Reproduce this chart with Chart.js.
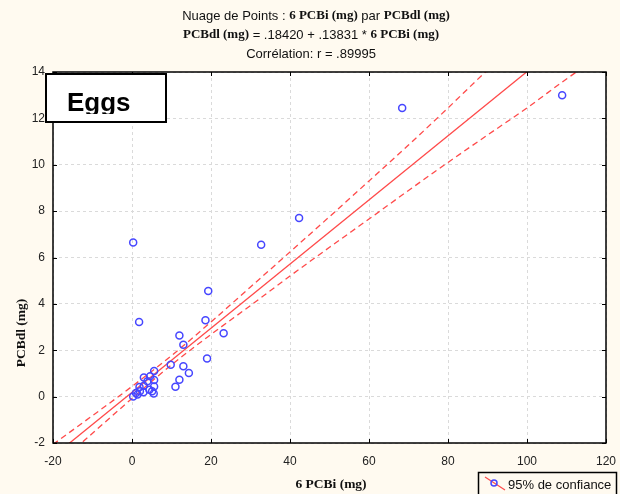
<!DOCTYPE html>
<html>
<head>
<meta charset="utf-8">
<script src="https://cdn.jsdelivr.net/npm/chart.js@4.4.1/dist/chart.umd.min.js"></script>
<style>
  html, body { margin: 0; padding: 0; background: #fffaf0; }
  #wrap { width: 620px; height: 494px; }
</style>
</head>
<body>
<div id="wrap"><canvas id="scatterChart" width="620" height="494"></canvas></div>
<script>
// observed points (6 PCBi, PCBdl)
const pcbiValues = [108.9, 68.4, 42.3, 32.7, 0.3, 19.3, 1.8, 18.6, 23.2, 12.0, 13.0, 19.0, 9.8, 13.0, 14.4, 12.0, 11.0,
    5.6, 5.6, 5.6, 5.5, 4.6, 3.0, 3.9, 4.4, 3.0, 1.9, 2.0, 2.9, 1.0, 0.3, 1.4, 5.1];
const pcbdlValues = [13.0, 12.45, 7.7, 6.55, 6.65, 4.56, 3.22, 3.29, 2.73, 2.64, 2.24, 1.64, 1.37, 1.31, 1.02, 0.73, 0.43,
    1.1, 0.72, 0.44, 0.13, 0.88, 0.82, 0.66, 0.3, 0.47, 0.42, 0.23, 0.19, 0.16, 0.01, 0.09, 0.23];

// regression line ends: PCBdl = .18420 + .13831 * 6 PCBi
const fitX = [-20, 120];
const fitY = [-2.582, 16.782];

// 95% confidence band
const bandX = [-20, -10, 0, 10, 20, 30, 40, 50, 60, 70, 80, 90, 100, 110, 120];
const bandUpper = [-2.06, -0.82, 0.44, 1.77, 3.22, 4.73, 6.24, 7.76, 9.30, 10.85, 12.45, 14.08, 15.57, 17.1, 18.7];
const bandLower = [-3.10, -1.58, -0.08, 1.37, 2.68, 3.93, 5.20, 6.44, 7.66, 8.89, 10.10, 11.28, 12.45, 13.70, 14.88];

const xTicks = [-20, 0, 20, 40, 60, 80, 100, 120];
const yTicks = [-2, 0, 2, 4, 6, 8, 10, 12, 14];

const SANS = "'Liberation Sans', Arial, sans-serif";
const SERIF = "'Liberation Serif', 'Times New Roman', serif";
const RED = "#ff4a4a";
const BLUE = "#4646ff";

const pairs = (xs, ys) => xs.map((x, i) => ({ x: x, y: ys[i] }));

function drawMixed(ctx, parts, cx, y) {
    let total = 0;
    parts.forEach(p => { ctx.font = p[1]; total += ctx.measureText(p[0]).width; });
    let x = cx - total / 2;
    ctx.textAlign = "left";
    ctx.textBaseline = "middle";
    parts.forEach(p => {
        ctx.font = p[1];
        ctx.fillText(p[0], x, y);
        x += ctx.measureText(p[0]).width;
    });
}

const decor = {
    id: "decor",
    beforeDraw(chart) {
        const { ctx, chartArea: a } = chart;
        ctx.save();
        ctx.fillStyle = "#fffaf0";
        ctx.fillRect(0, 0, chart.width, chart.height);
        ctx.fillStyle = "#ffffff";
        ctx.fillRect(a.left, a.top, a.right - a.left, a.bottom - a.top);
        ctx.restore();
    },
    afterDraw(chart) {
        const { ctx, chartArea: a } = chart;
        const xs = chart.scales.x, ys = chart.scales.y;
        ctx.save();

        // frame + inward ticks
        ctx.strokeStyle = "#000";
        ctx.lineWidth = 1.5;
        ctx.strokeRect(a.left, a.top, a.right - a.left, a.bottom - a.top);
        ctx.lineWidth = 1;
        ctx.beginPath();
        xTicks.forEach(v => {
            const px = Math.round(xs.getPixelForValue(v)) + 0.5;
            ctx.moveTo(px, a.bottom); ctx.lineTo(px, a.bottom - 4);
            ctx.moveTo(px, a.top); ctx.lineTo(px, a.top + 4);
        });
        yTicks.forEach(v => {
            const py = Math.round(ys.getPixelForValue(v)) + 0.5;
            ctx.moveTo(a.left, py); ctx.lineTo(a.left + 4, py);
            ctx.moveTo(a.right, py); ctx.lineTo(a.right - 4, py);
        });
        ctx.stroke();

        // title
        ctx.fillStyle = "#111";
        const sans = "13px " + SANS, serif = "bold 13px " + SERIF;
        drawMixed(ctx, [["Nuage de Points : ", sans], ["6 PCBi (mg)", serif], [" par ", sans], ["PCBdl (mg)", serif]], 316, 16);
        drawMixed(ctx, [["PCBdl (mg)", serif], [" = .18420 + .13831 * ", sans], ["6 PCBi (mg)", serif]], 311, 35);
        drawMixed(ctx, [["Corrélation: r = .89995", sans]], 311, 54);

        // axis titles
        const axisFont = "bold 13.5px " + SERIF;
        drawMixed(ctx, [["6 PCBi (mg)", axisFont]], 331, 485);
        ctx.save();
        ctx.translate(22, 333);
        ctx.rotate(-Math.PI / 2);
        drawMixed(ctx, [["PCBdl (mg)", axisFont]], 0, 0);
        ctx.restore();

        // "Eggs" box
        ctx.fillStyle = "#fff";
        ctx.fillRect(46, 74, 120, 48);
        ctx.lineWidth = 2;
        ctx.strokeStyle = "#000";
        ctx.strokeRect(46, 74, 120, 48);
        ctx.save();
        ctx.beginPath();
        ctx.rect(47, 75, 118, 39);
        ctx.clip();
        ctx.fillStyle = "#000";
        ctx.font = "bold 26px " + SANS;
        ctx.textAlign = "left";
        ctx.textBaseline = "alphabetic";
        ctx.fillText("Eggs", 67, 111);
        ctx.restore();

        // legend
        ctx.lineWidth = 1.5;
        ctx.strokeStyle = "#000";
        ctx.strokeRect(478.5, 472.5, 138, 30);
        ctx.strokeStyle = RED;
        ctx.lineWidth = 1.2;
        ctx.beginPath();
        ctx.moveTo(485, 477); ctx.lineTo(505, 490);
        ctx.stroke();
        ctx.strokeStyle = BLUE;
        ctx.lineWidth = 1.5;
        ctx.beginPath();
        ctx.arc(494, 483, 3, 0, Math.PI * 2);
        ctx.stroke();
        ctx.fillStyle = "#111";
        ctx.font = "13px " + SANS;
        ctx.textAlign = "left";
        ctx.textBaseline = "middle";
        ctx.fillText("95% de confiance", 508, 485);

        ctx.restore();
    }
};

const gridOpts = { color: "#dadada", lineWidth: 1, drawTicks: false };
const borderOpts = { display: false, dash: [3, 3] };

new Chart(document.getElementById("scatterChart"), {
    type: "scatter",
    data: {
        datasets: [
            {
                label: "PCBdl",
                data: pairs(pcbiValues, pcbdlValues),
                pointStyle: "circle",
                pointRadius: 3.5,
                pointBorderWidth: 1.5,
                pointBorderColor: BLUE,
                pointBackgroundColor: "rgba(0,0,0,0)",
                order: 0,
            },
            {
                label: "fit",
                data: pairs(fitX, fitY),
                showLine: true,
                borderColor: RED,
                borderWidth: 1.3,
                pointRadius: 0,
                order: 1,
            },
            {
                label: "upper",
                data: pairs(bandX, bandUpper),
                showLine: true,
                borderColor: RED,
                borderWidth: 1.3,
                borderDash: [6, 4],
                pointRadius: 0,
                cubicInterpolationMode: "monotone",
                order: 1,
            },
            {
                label: "lower",
                data: pairs(bandX, bandLower),
                showLine: true,
                borderColor: RED,
                borderWidth: 1.3,
                borderDash: [6, 4],
                pointRadius: 0,
                cubicInterpolationMode: "monotone",
                order: 1,
            },
        ],
    },
    options: {
        responsive: false,
        animation: false,
        events: [],
        layout: { padding: { top: 72, right: 14, left: 0, bottom: 0 } },
        plugins: { legend: { display: false }, title: { display: false }, tooltip: { enabled: false } },
        scales: {
            x: {
                type: "linear",
                min: -20,
                max: 120,
                afterFit: s => { s.height = 51; s.paddingLeft = 0; s.paddingRight = 0; },
                afterBuildTicks: s => { s.ticks = xTicks.map(v => ({ value: v })); },
                ticks: { color: "#222", font: { family: SANS, size: 12 }, padding: 11, maxRotation: 0 },
                grid: gridOpts,
                border: borderOpts,
            },
            y: {
                type: "linear",
                min: -2,
                max: 14,
                afterFit: s => { s.width = 53; s.paddingTop = 0; s.paddingBottom = 0; },
                afterBuildTicks: s => { s.ticks = yTicks.map(v => ({ value: v })); },
                ticks: { color: "#222", font: { family: SANS, size: 12 }, padding: 8 },
                grid: gridOpts,
                border: borderOpts,
            },
        },
    },
    plugins: [decor],
});
</script>
</body>
</html>
